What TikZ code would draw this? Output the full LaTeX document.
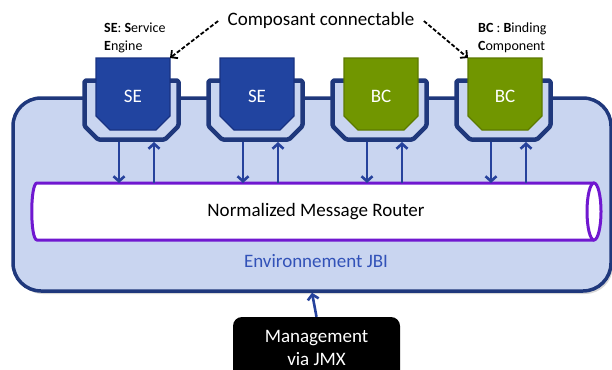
\documentclass[tikz,border=0pt]{standalone}
\usepackage{fontspec}
\setmainfont{Carlito}
\usetikzlibrary{arrows.meta}
\definecolor{envfill}{RGB}{201,213,240}
\definecolor{navy}{RGB}{31,56,124}
\definecolor{sefill}{RGB}{33,68,160}
\definecolor{sedraw}{RGB}{24,50,130}
\definecolor{bcfill}{RGB}{113,150,0}
\definecolor{bcdraw}{RGB}{92,122,0}
\definecolor{pipec}{RGB}{112,24,208}
\definecolor{arrc}{RGB}{38,66,156}
\definecolor{envtext}{RGB}{50,82,184}
\tikzset{
  envbox/.style={draw=navy, line width=3.5pt, fill=envfill, rounded corners=28pt},
  cradle/.style={draw=navy, line width=4.5pt, fill=envfill, line join=round, rounded corners=1.5pt},
  se/.style={draw=sedraw, line width=1.2pt, fill=sefill},
  bc/.style={draw=bcdraw, line width=1.2pt, fill=bcfill},
  modtext/.style={text=white, font=\fontsize{19}{23}\selectfont},
  arr/.style={draw=arrc, line width=2.6pt, -{Straight Barb[length=5pt,width=11pt]}},
  dasharr/.style={draw=black, line width=1.8pt, dash pattern=on 4pt off 2pt, -{Straight Barb[length=5pt,width=10pt]}},
  bigtext/.style={font=\fontsize{19}{23}\selectfont},
  smalltext/.style={font=\fontsize{14}{18}\selectfont, align=left, inner sep=0pt}
}
\begin{document}
\begin{tikzpicture}[x=1pt,y=-1pt]
\useasboundingbox (0,0) rectangle (612,369);
% environment
\fill[black!35, opacity=0.45, rounded corners=28pt] (15,100) rectangle (613,294);
\node[envbox, minimum width=598pt, minimum height=193pt, inner sep=0pt] (env) at (312,194.5) {};
% pipe
\coordinate (pipetop) at (0,183);
\draw[draw=pipec, line width=3pt, fill=white]
  (594,183) -- (37,183) .. controls (30,183) and (30,240) .. (37,240) -- (594,240);
\draw[draw=pipec, line width=3pt, fill=white] (594,211.5) ellipse [x radius=7pt, y radius=28.5pt];
\node[bigtext] (nmr) at (316,212) {Normalized Message Router};
\node[bigtext, text=envtext] (envlabel) at (316,261) {Environnement JBI};
% sockets and modules
\foreach \i/\x/\kind/\lab in {1/82/se/SE,2/206/se/SE,3/330/bc/BC,4/454/bc/BC}{
  \draw[cradle] (\x+2.5,80.5) -- (\x+2.5,126) -- (\x+16,139.5) -- (\x+83,139.5) -- (\x+96.5,126) -- (\x+96.5,80.5) -- cycle;
  \draw[\kind] (\x+14,58) -- (\x+88,58) -- (\x+88,116) -- (\x+74,130) -- (\x+28,130) -- (\x+14,116) -- cycle;
  \node[modtext] (mod\i) at (\x+51,96) {\lab};
  \coordinate (d\i) at (\x+37,142);
  \coordinate (u\i) at (\x+72,142);
  \coordinate (tl\i) at (\x+14,58);
  \coordinate (tr\i) at (\x+88,58);
  \draw[arr] (d\i) -- (d\i |- pipetop);
  \draw[arr] (u\i |- pipetop) -- (u\i);
}
% labels
\node[bigtext] (title) at (321,20) {Composant connectable};
\draw[dasharr] ([xshift=-6pt,yshift=-1pt]title.west) -- (tr1);
\draw[dasharr] ([xshift=6pt,yshift=-1pt]title.east) -- (tl4);
\node[smalltext, anchor=west] (lblse) at (104,38) {\textbf{SE}: \textbf{S}ervice\\\textbf{E}ngine};
\node[smalltext, anchor=west] (lblbc) at (478,38) {\textbf{BC} : \textbf{B}inding\\\textbf{C}omponent};
% management
\node[fill=black, rounded corners=9pt, minimum width=167pt, minimum height=62pt, text=white,
      align=center, font=\fontsize{19}{23}\selectfont] (mgmt) at (316.5,348) {Management\\via JMX};
\draw[arr] (mgmt.north) -- (env.south);
\end{tikzpicture}
\end{document}
